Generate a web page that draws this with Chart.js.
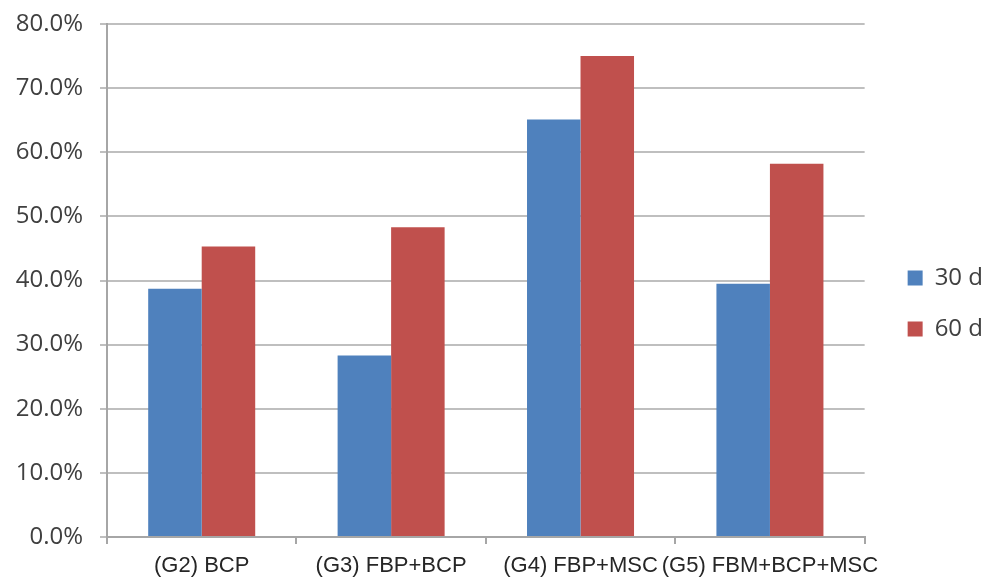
<!DOCTYPE html>
<html lang="en">
<head>
  <meta charset="UTF-8">
  <title>Bar chart</title>
  <script src="https://cdn.jsdelivr.net/npm/chart.js@4.4.1/dist/chart.umd.min.js"></script>
  <style>
    html, body { margin: 0; padding: 0; background: #fff; }
    #wrap { width: 985px; height: 583px; }
  </style>
</head>
<body>
<div id="wrap"><canvas id="myChart"></canvas></div>

<script>
const groups = ['(G2) BCP', '(G3) FBP+BCP', '(G4) FBP+MSC', '(G5) FBM+BCP+MSC'];
const day30 = [38.7, 28.3, 65.1, 39.5];
const day60 = [45.3, 48.3, 75.0, 58.2];
const yTicks = [0, 10, 20, 30, 40, 50, 60, 70, 80];

// push the legend a bit away from the plot, like the original
const legendShift = {
    id: 'legendShift',
    afterLayout(chart) {
        const lg = chart.legend;
        const w = lg.width, h = lg.height;
        lg.left = chart.chartArea.right + 16;
        lg.right = lg.left + w;
        lg.top += 12;
        lg.bottom = lg.top + h;
    }
};

const ctx = document.getElementById('myChart').getContext('2d');

const myChart = new Chart(ctx, {
    type: 'bar',
    data: {
        labels: groups,
        datasets: [
            { label: '30 d', data: day30, backgroundColor: '#4F81BD' },
            { label: '60 d', data: day60, backgroundColor: '#C0504D' }
        ]
    },
    options: {
        responsive: true,
        maintainAspectRatio: false,
        animation: false,
        datasets: {
            bar: { categoryPercentage: 0.565, barPercentage: 1.0 }
        },
        layout: { padding: { top: 0, left: 0, right: 8, bottom: 0 } },
        scales: {
            x: {
                afterFit: (s) => { s.height = 46; },
                grid: {
                    drawOnChartArea: false,
                    drawTicks: true,
                    tickLength: 7,
                    color: '#a6a6a6',
                    lineWidth: 2
                },
                border: { color: '#a6a6a6', width: 2 },
                ticks: {
                    color: '#262626',
                    padding: 9,
                    autoSkip: false,
                    maxRotation: 0,
                    font: { family: 'Liberation Sans', size: 22 }
                }
            },
            y: {
                min: 0,
                max: 80,
                afterFit: (s) => { s.width = 107; s.paddingTop = 24; s.paddingBottom = 0; },
                afterBuildTicks: (axis) => { axis.ticks = yTicks.map(v => ({ value: v })); },
                grid: {
                    color: '#bfbfbf',
                    lineWidth: 2,
                    tickLength: 7
                },
                border: { color: '#a6a6a6', width: 2 },
                ticks: {
                    color: '#404040',
                    padding: 17,
                    font: { family: 'Open Sans', size: 24 },
                    callback: (v) => v.toFixed(1) + '%'
                }
            }
        },
        plugins: {
            legend: {
                position: 'right',
                labels: {
                    boxWidth: 15,
                    boxHeight: 15,
                    padding: 27,
                    color: '#404040',
                    font: { family: 'Open Sans', size: 24 }
                }
            },
            tooltip: { enabled: false }
        }
    },
    plugins: [legendShift]
});
</script>

</body>
</html>
